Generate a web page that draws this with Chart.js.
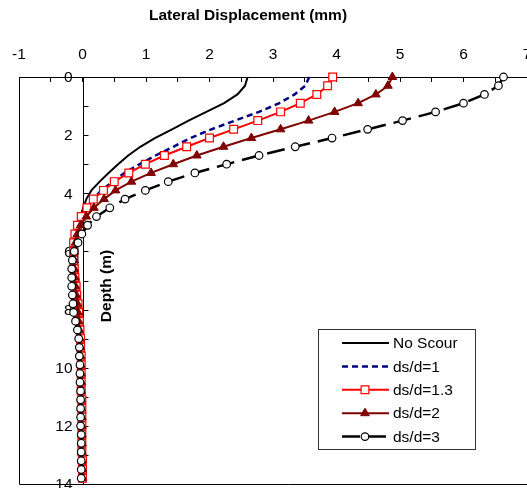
<!DOCTYPE html>
<html>
<head>
<meta charset="utf-8">
<script src="https://cdn.jsdelivr.net/npm/chart.js@4.4.1/dist/chart.umd.min.js"></script>
<style>
  html, body { margin: 0; padding: 0; background: #fff; }
  #wrap { width: 527px; height: 488px; overflow: hidden; position: relative; }
  canvas { display: block; margin-left: -11px; }
</style>
</head>
<body>
<div id="wrap"><canvas id="chart" width="568" height="500"></canvas></div>
<script>
// depth below pile head (m), shared by all series
const depths = [0, 0.3, 0.6, 0.9, 1.2, 1.5, 1.8, 2.1, 2.4, 2.7, 3.0, 3.3, 3.6, 3.9, 4.2, 4.5,
  4.8, 5.1, 5.4, 5.7, 6.0, 6.3, 6.6, 6.9, 7.2, 7.5, 7.8, 8.1, 8.4, 8.7, 9.0, 9.3, 9.6, 9.9,
  10.2, 10.5, 10.8, 11.1, 11.4, 11.7, 12.0, 12.3, 12.6, 12.9, 13.2, 13.5, 13.8];

// lateral displacement (mm)
const noScour = [2.60, 2.56, 2.44, 2.23, 1.95, 1.67, 1.41, 1.14, 0.91, 0.72, 0.56, 0.41, 0.27, 0.14, 0.06, 0.01,
  -0.03, -0.05, -0.07, -0.08, -0.08, -0.08, -0.08, -0.07, -0.07, -0.06, -0.05, -0.05, -0.04, -0.04, -0.03, -0.03, -0.03, -0.02,
  -0.02, -0.02, -0.02, -0.02, -0.01, -0.01, -0.01, -0.01, -0.01, -0.01, -0.01, 0, 0];
const ds1 = [3.57, 3.51, 3.34, 3.10, 2.78, 2.40, 2.03, 1.70, 1.43, 1.15, 0.90, 0.66, 0.47, 0.30, 0.16, 0.06,
  -0.02, -0.07, -0.10, -0.11, -0.11, -0.11, -0.10, -0.09, -0.08, -0.07, -0.06, -0.05, -0.04, -0.04, -0.03, -0.03, -0.03, -0.02,
  -0.02, -0.02, -0.02, -0.02, -0.01, -0.01, -0.01, -0.01, -0.01, -0.01, -0.01, 0, 0];
const ds13 = [3.94, 3.86, 3.69, 3.43, 3.12, 2.76, 2.38, 2.00, 1.64, 1.29, 0.99, 0.73, 0.50, 0.33, 0.17, 0.07,
  -0.02, -0.08, -0.12, -0.14, -0.14, -0.14, -0.13, -0.12, -0.10, -0.09, -0.07, -0.06, -0.05, -0.04, -0.03, -0.03, -0.02, -0.02,
  -0.02, -0.02, -0.02, -0.01, -0.01, -0.01, -0.01, -0.01, -0.01, -0.01, 0, 0, 0];
const ds2 = [4.88, 4.81, 4.62, 4.34, 3.97, 3.56, 3.12, 2.66, 2.22, 1.80, 1.43, 1.08, 0.77, 0.52, 0.34, 0.18,
  0.06, -0.03, -0.08, -0.11, -0.13, -0.13, -0.13, -0.12, -0.11, -0.10, -0.08, -0.07, -0.06, -0.05, -0.04, -0.03, -0.03, -0.03,
  -0.02, -0.02, -0.02, -0.02, -0.02, -0.01, -0.01, -0.01, -0.01, -0.01, -0.01, 0, 0];
const ds3 = [6.63, 6.55, 6.33, 6.00, 5.56, 5.04, 4.49, 3.93, 3.35, 2.78, 2.27, 1.77, 1.35, 0.99, 0.67, 0.43,
  0.22, 0.08, -0.01, -0.07, -0.13, -0.16, -0.17, -0.17, -0.17, -0.16, -0.15, -0.14, -0.11, -0.08, -0.06, -0.05, -0.05, -0.04,
  -0.04, -0.04, -0.03, -0.03, -0.03, -0.03, -0.03, -0.02, -0.02, -0.02, -0.02, -0.02, -0.02];

const seriesNames = ['No Scour', 'ds/d=1', 'ds/d=1.3', 'ds/d=2', 'ds/d=3'];
const yTickValues = [0, 1, 2, 3, 4, 5, 6, 7, 8, 9, 10, 11, 12, 13, 14];
const xTitle = 'Lateral Displacement (mm)';
const yTitle = 'Depth (m)';

const FONT = 'Arial, "Liberation Sans", sans-serif';
const SHIFT = 11; // canvas is pulled left by this many px in the css
Chart.defaults.font.family = FONT;
Chart.defaults.font.size = 15.5;
Chart.defaults.color = '#000';

const toPoints = vals => vals.map((v, i) => ({ x: v, y: depths[i] }));

// frame on the left/bottom, plus the depth axis crossing at x = 0
const framePlugin = {
  id: 'frame',
  beforeDatasetsDraw(chart) {
    const { ctx, chartArea: a, scales } = chart;
    const x0 = Math.round(scales.x.getPixelForValue(0)) + 0.5;
    ctx.save();
    ctx.strokeStyle = '#000';
    ctx.lineWidth = 1;
    ctx.beginPath();
    ctx.moveTo(Math.round(a.left) + 0.5, a.top);
    ctx.lineTo(Math.round(a.left) + 0.5, Math.round(a.bottom) + 0.5);
    ctx.lineTo(a.right + 30, Math.round(a.bottom) + 0.5);
    ctx.moveTo(x0, a.top);
    ctx.lineTo(x0, a.bottom);
    yTickValues.forEach(v => {
      const y = Math.round(scales.y.getPixelForValue(v)) + 0.5;
      ctx.moveTo(x0, y);
      ctx.lineTo(x0 + 5, y);
    });
    ctx.stroke();
    ctx.fillStyle = '#000';
    ctx.font = '15.5px ' + FONT;
    ctx.textAlign = 'right';
    ctx.textBaseline = 'middle';
    yTickValues.filter(v => v % 2 === 0).forEach(v => {
      ctx.fillText(String(v), x0 - 11, scales.y.getPixelForValue(v) + 1);
    });
    ctx.restore();
  }
};

// axis titles placed like the original
const titlePlugin = {
  id: 'titles',
  afterDraw(chart) {
    const ctx = chart.ctx;
    ctx.save();
    ctx.fillStyle = '#000';
    ctx.font = 'bold 15.5px ' + FONT;
    ctx.textAlign = 'center';
    ctx.textBaseline = 'middle';
    ctx.fillText(xTitle, 248 + SHIFT, 16);
    ctx.translate(107 + SHIFT, 286);
    ctx.rotate(-Math.PI / 2);
    ctx.fillText(yTitle, 0, 0);
    ctx.restore();
  }
};

// boxed legend inside the plot
const legendPlugin = {
  id: 'boxLegend',
  afterDraw(chart) {
    const ctx = chart.ctx;
    const L = 318.5 + SHIFT;
    ctx.save();
    ctx.fillStyle = '#fff';
    ctx.strokeStyle = '#333';
    ctx.lineWidth = 1;
    ctx.fillRect(L, 329.5, 157, 120);
    ctx.strokeRect(L, 329.5, 157, 120);
    ctx.font = '15.5px ' + FONT;
    ctx.textBaseline = 'middle';
    chart.data.datasets.forEach((ds, i) => {
      const y = 343 + i * 23.4;
      ctx.strokeStyle = ds.borderColor;
      ctx.lineWidth = ds.borderWidth;
      ctx.setLineDash(ds.borderDash || []);
      ctx.beginPath();
      ctx.moveTo(342 + SHIFT, y);
      ctx.lineTo(389 + SHIFT, y);
      ctx.stroke();
      ctx.setLineDash([]);
      if (ds.pointRadius > 0) {
        ctx.fillStyle = ds.pointBackgroundColor;
        ctx.strokeStyle = ds.pointBorderColor;
        ctx.lineWidth = ds.pointBorderWidth;
        Chart.helpers.drawPoint(ctx, { pointStyle: ds.pointStyle, radius: ds.pointRadius, borderWidth: ds.pointBorderWidth, rotation: 0 }, 365 + SHIFT, y);
      }
      ctx.fillStyle = '#000';
      ctx.fillText(ds.label, 393 + SHIFT, y + 1);
    });
    ctx.restore();
  }
};

new Chart(document.getElementById('chart'), {
  type: 'scatter',
  data: {
    datasets: [
      { label: seriesNames[0], data: toPoints(noScour), order: 5,
        borderColor: '#000', borderWidth: 2, pointRadius: 0 },
      { label: seriesNames[1], data: toPoints(ds1), order: 4,
        borderColor: '#000080', borderWidth: 2.5, borderDash: [6, 4], pointRadius: 0 },
      { label: seriesNames[2], data: toPoints(ds13), order: 3,
        borderColor: '#ff0000', borderWidth: 2, pointStyle: 'rect', pointRadius: 5.5,
        pointBackgroundColor: '#fff', pointBorderColor: '#ff0000', pointBorderWidth: 1.2 },
      { label: seriesNames[3], data: toPoints(ds2), order: 2,
        borderColor: '#800000', borderWidth: 2, pointStyle: 'triangle', pointRadius: 5,
        pointBackgroundColor: '#800000', pointBorderColor: '#800000', pointBorderWidth: 1 },
      { label: seriesNames[4], data: toPoints(ds3), order: 1,
        borderColor: '#000', borderWidth: 2.5, borderDash: [18, 8], pointStyle: 'circle', pointRadius: 3.8,
        pointBackgroundColor: '#fff', pointBorderColor: '#000', pointBorderWidth: 1.2 }
    ].map(d => Object.assign({ showLine: true, tension: 0, clip: false, fill: false }, d))
  },
  options: {
    responsive: false,
    animation: false,
    events: [],
    layout: { padding: { left: 30, right: 30, top: 27.4, bottom: 16 } },
    plugins: { legend: { display: false }, tooltip: { enabled: false } },
    scales: {
      x: {
        type: 'linear', position: 'top', min: -1, max: 7,
        ticks: { stepSize: 0.5, autoSkip: false, maxRotation: 0, padding: 18,
          callback: v => Number.isInteger(v) ? v : '' },
        grid: { drawOnChartArea: false, tickLength: -5, color: '#000' },
        border: { color: '#000', width: 1 }
      },
      y: {
        type: 'linear', display: false, reverse: true, min: 0, max: 14
      }
    }
  },
  plugins: [framePlugin, titlePlugin, legendPlugin]
});
</script>
</body>
</html>
